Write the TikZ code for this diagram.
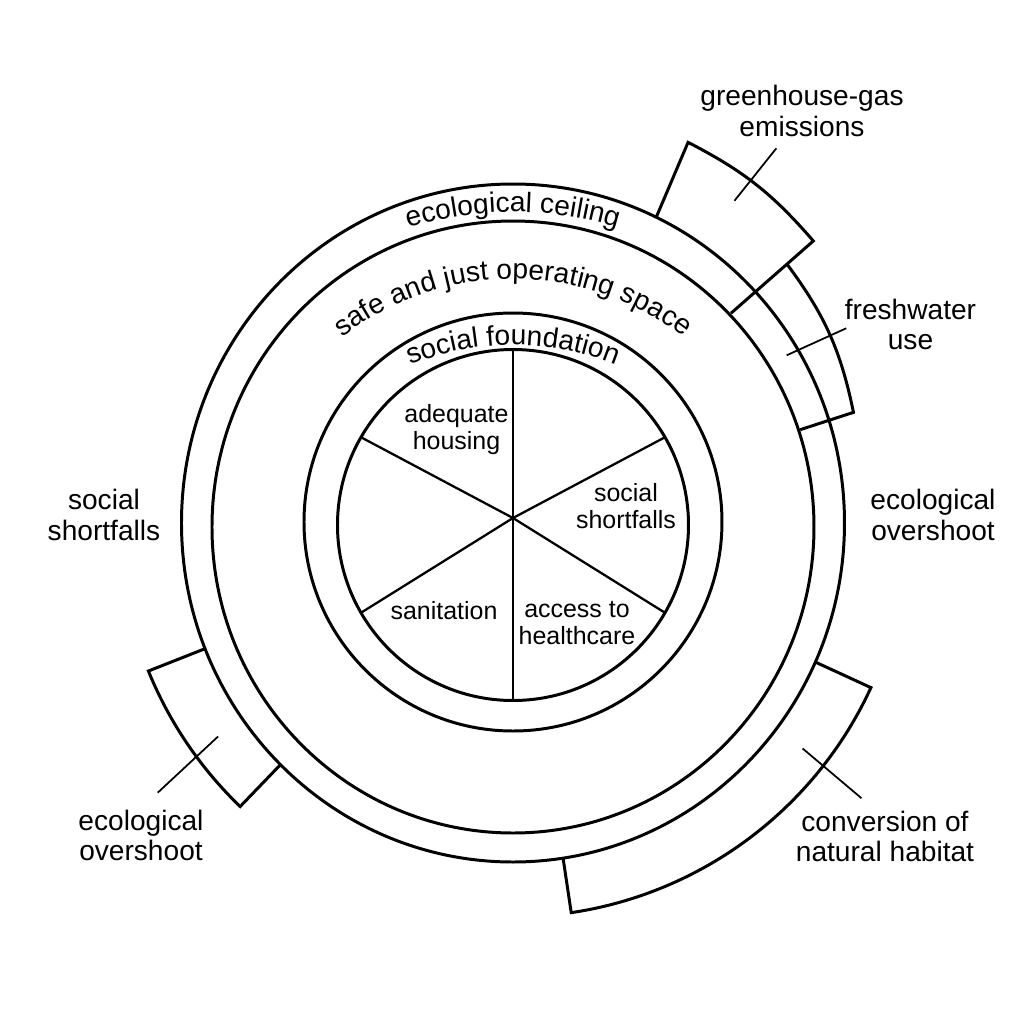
\documentclass[tikz,border=0pt]{standalone}
\usepackage{fontspec}
\setmainfont{Liberation Sans}
\usepackage{tikz}
\usetikzlibrary{calc,decorations.text}

\newcommand{\arcfont}{\fontsize{8pt}{8.5pt}\selectfont}

\begin{document}
\begin{tikzpicture}[
	ring/.style={line width=0.85pt},
	spoke/.style={line width=0.65pt},
	tick/.style={line width=0.5pt},
	lbl/.style={align=center, inner sep=0pt, font=\fontsize{8pt}{8.6pt}\selectfont},
	pielbl/.style={align=center, inner sep=0pt, font=\fontsize{7.1pt}{7.7pt}\selectfont},
	arctext/.style={decorate, decoration={text along path, text={|\arcfont|#1}, text align=center}}
]
	\useasboundingbox (-5.13,-5.01) rectangle (5.11,5.23);

	\coordinate (pie) at (0,-0.02);
	\coordinate (hub) at (0,0.05);

	\draw[ring] (0,0) ellipse[x radius=3.315, y radius=3.39];
	\draw[ring] (0,-0.04) ellipse[x radius=3.01, y radius=3.06];
	\draw[ring] (0,0.01) circle (2.09);
	\draw[ring] (pie) circle (1.755);

	\foreach \a in {30,90,...,330}
		\draw[spoke] (hub) -- ($(pie)+(\a:1.755)$);

	\path[arctext={ecological ceiling}] ($(0,-0.5)+(118:3.61)$) arc[start angle=118, end angle=62, radius=3.61];
	\path[arctext={safe and just operating space}] ($(0,-0.36)+(145:2.8)$) arc[start angle=145, end angle=35, radius=2.8];
	\path[arctext={social foundation}] ($(0,-0.96)+(125:2.74)$) arc[start angle=125, end angle=55, radius=2.74];

	\draw[ring] (64.9:3.38) -- (65.3:4.19) to[bend left=11] (43.2:4.12) -- (43.9:3.025);
	\draw[ring] (43.4:3.77) to[bend left=12.5] (18:3.58) -- (18:3.02);
	\draw[ring] (-24.7:3.33) -- (-24.7:3.94) arc[start angle=-24.7, end angle=-81.5, radius=3.94] -- (-81.5:3.39);
	\draw[ring] (202.2:3.33) -- (202.1:3.935) arc[start angle=202.1, end angle=226.1, radius=3.935] -- (226.1:3.35);

	\coordinate (ghg1) at (55.5:3.91);
	\coordinate (ghg2) at (54.9:4.58);
	\coordinate (fresh1) at (31.5:3.21);
	\coordinate (fresh2) at (30.3:3.86);
	\coordinate (habitat1) at (-37.9:3.67);
	\coordinate (habitat2) at (-38.3:4.44);
	\coordinate (overL1) at (215.9:3.64);
	\coordinate (overL2) at (217.2:4.46);

	\draw[tick] (ghg1) -- (ghg2);
	\draw[tick] (fresh1) -- (fresh2);
	\draw[tick] (habitat1) -- (habitat2);
	\draw[tick] (overL1) -- (overL2);

	\node[lbl] (ghg) at (2.89,4.12) {greenhouse-gas\\emissions};
	\node[lbl] (fresh) at (3.975,1.985) {freshwater\\use};
	\node[lbl] (overR) at (4.20,0.08) {ecological\\overshoot};
	\node[lbl] (habitat) at (3.72,-3.135) {conversion of\\natural habitat};
	\node[lbl] (overL) at (-3.72,-3.125) {ecological\\overshoot};
	\node[lbl] (shortL) at (-4.09,0.08) {social\\shortfalls};

	\node[pielbl] (housing) at (-0.565,0.935) {adequate\\housing};
	\node[pielbl] (shortR) at (1.13,0.168) {social\\shortfalls};
	\node[pielbl] (sanit) at (-0.69,-0.88) {sanitation};
	\node[pielbl] (health) at (0.64,-1.005) {access to\\healthcare};
\end{tikzpicture}
\end{document}
